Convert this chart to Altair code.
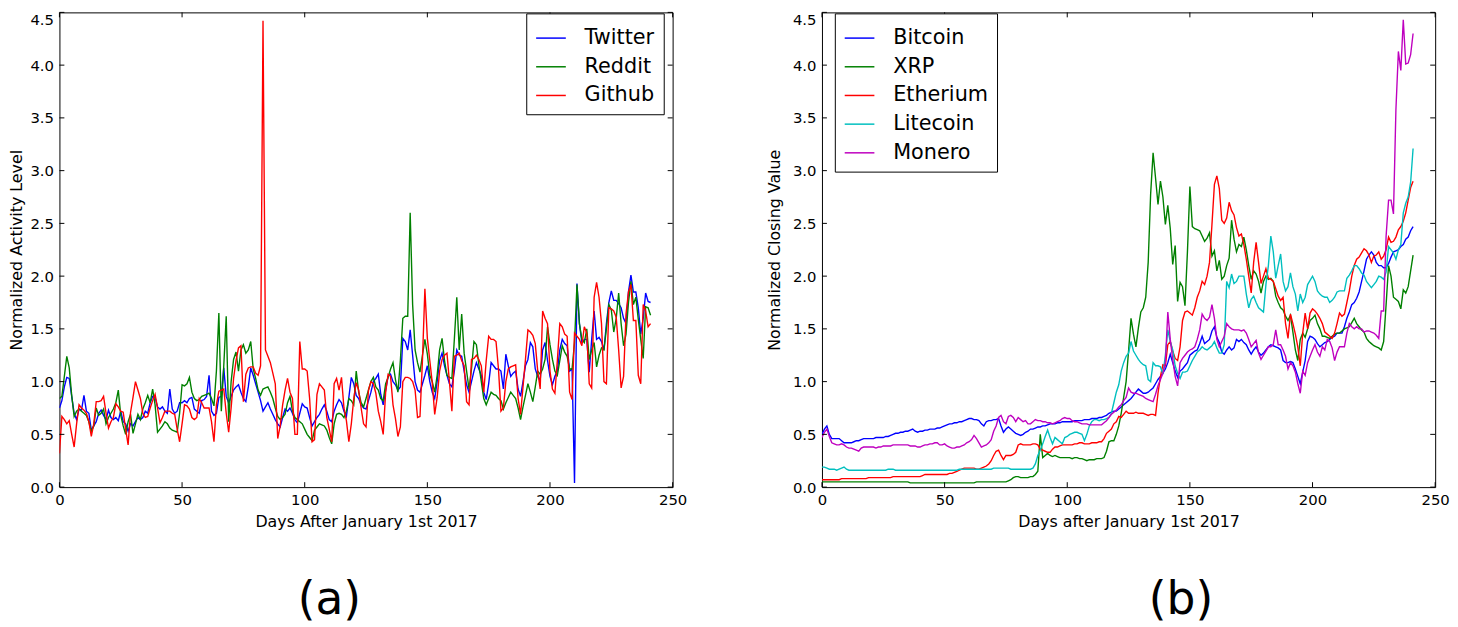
import altair as alt
import pandas as pd

days = list(range(242))
x_ticks = [0, 50, 100, 150, 200, 250]
y_ticks = [0.0, 0.5, 1.0, 1.5, 2.0, 2.5, 3.0, 3.5, 4.0, 4.5]

left_names = ["Twitter", "Reddit", "Github"]
left_colors = ["#0000ff", "#008000", "#ff0000"]

twitter = [
    0.75,0.82,0.95,1.04,1.03,0.86,0.70,0.64,0.74,0.73,
    0.87,0.72,0.70,0.54,0.58,0.62,0.70,0.73,0.68,0.64,
    0.73,0.66,0.64,0.66,0.63,0.72,0.62,0.60,0.53,0.60,
    0.58,0.62,0.66,0.64,0.66,0.72,0.70,0.80,0.86,0.85,
    0.76,0.74,0.76,0.72,0.70,0.93,0.74,0.70,0.72,0.80,
    0.80,0.82,0.80,0.84,0.85,0.74,0.72,0.70,0.82,0.83,
    0.86,1.06,0.72,0.68,0.70,0.85,0.86,1.13,0.86,0.80,
    0.86,0.92,0.95,0.97,0.90,0.84,0.81,0.95,1.13,1.06,
    0.98,0.90,0.82,0.72,0.76,0.80,0.74,0.69,0.64,0.60,
    0.57,0.66,0.74,0.72,0.75,0.70,0.64,0.61,0.70,0.79,
    0.76,0.75,0.66,0.58,0.62,0.66,0.69,0.74,0.78,0.72,
    0.64,0.62,0.72,0.78,0.83,0.80,0.72,0.67,0.85,1.04,
    0.98,0.87,0.84,0.78,0.75,0.74,0.82,0.90,1.00,1.03,
    1.07,0.88,0.78,0.92,1.05,1.07,1.00,0.97,0.92,0.95,
    1.41,1.38,1.30,1.49,1.25,1.00,0.92,0.90,0.98,1.06,
    1.15,1.00,0.90,0.84,1.00,1.20,1.27,1.15,1.06,0.98,
    0.95,1.10,1.30,1.25,1.24,1.10,0.97,0.90,1.00,1.10,
    1.18,1.12,1.06,0.90,0.83,0.98,1.18,1.15,1.12,1.12,
    1.10,0.93,1.26,1.15,1.05,1.08,1.10,0.93,0.86,1.00,
    1.15,1.21,1.37,1.33,1.12,1.05,1.01,1.30,1.37,1.20,
    1.05,0.97,1.05,1.10,1.30,1.40,1.36,1.34,1.10,1.12,
    0.04,1.93,1.55,1.37,1.40,1.40,1.09,1.40,1.67,1.40,
    1.42,1.38,1.30,1.55,1.75,1.86,1.77,1.77,1.74,1.70,
    1.60,1.55,1.85,2.01,1.85,1.85,1.70,1.45,1.60,1.84,
    1.76,1.75,
]

reddit = [
    0.84,0.86,1.05,1.24,1.13,0.87,0.67,0.72,0.74,0.72,
    0.70,0.68,0.62,0.53,0.58,0.75,0.68,0.70,0.74,0.60,
    0.66,0.70,0.74,0.80,0.92,0.68,0.58,0.50,0.62,0.69,
    0.51,0.60,0.69,0.64,0.74,0.80,0.87,0.80,0.93,0.78,
    0.52,0.55,0.58,0.62,0.60,0.56,0.54,0.53,0.52,0.70,
    0.97,0.96,0.98,1.04,0.90,0.84,0.82,0.83,0.86,0.87,
    0.88,0.89,0.84,0.77,1.10,1.65,0.72,1.15,1.62,0.62,
    1.00,1.21,1.28,1.10,1.30,1.35,1.27,1.30,1.38,1.12,
    1.03,0.92,0.87,0.93,0.94,0.95,0.90,0.84,0.75,0.67,
    0.64,0.66,0.69,0.80,0.86,0.72,0.66,0.64,0.62,0.60,
    0.55,0.50,0.47,0.44,0.54,0.57,0.60,0.59,0.58,0.54,
    0.47,0.41,0.60,0.69,0.70,0.69,0.66,0.72,0.84,0.82,
    0.78,1.10,0.90,0.80,0.76,0.84,0.92,1.00,1.04,0.95,
    0.92,0.84,0.82,0.98,1.04,1.12,1.18,1.02,0.90,1.20,
    1.60,1.62,1.62,2.60,1.73,1.30,1.18,1.09,1.25,1.40,
    1.26,1.06,1.00,0.90,1.06,1.30,1.41,1.20,1.06,1.04,
    1.03,1.40,1.80,1.30,1.64,1.27,1.10,0.93,1.12,1.38,
    1.35,1.16,1.00,0.84,0.78,0.84,0.90,0.88,0.87,0.84,
    0.82,0.74,0.80,0.85,0.90,0.87,0.84,0.75,0.64,0.76,
    0.87,0.98,0.90,0.81,0.95,1.10,1.07,1.12,1.21,1.52,
    1.35,1.21,1.10,1.06,1.20,1.34,1.28,1.24,1.12,1.12,
    1.37,1.92,1.55,1.40,1.37,1.50,1.21,1.30,1.37,1.14,
    1.25,1.32,1.30,1.50,1.73,1.68,1.47,1.60,1.84,1.55,
    1.34,1.45,1.75,1.95,1.73,1.80,1.59,1.40,1.22,1.71,
    1.70,1.63,
]

github = [
    0.32,0.67,0.64,0.60,0.63,0.50,0.38,0.60,0.78,0.75,
    0.73,0.70,0.62,0.48,0.60,0.81,0.81,0.82,0.86,0.70,
    0.56,0.62,0.66,0.79,0.76,0.72,0.71,0.55,0.40,0.71,
    0.85,1.00,0.92,0.84,0.70,0.66,0.67,0.75,0.82,0.88,
    0.75,0.61,0.66,0.72,0.72,0.72,0.70,0.69,0.55,0.43,
    0.60,0.78,0.77,0.74,0.66,0.64,0.66,0.84,0.80,0.75,
    0.75,0.75,0.62,0.43,0.78,0.91,0.92,0.93,0.70,0.52,
    0.75,1.03,1.20,1.32,1.34,0.81,1.07,1.13,1.14,1.14,
    1.08,1.06,1.15,4.42,1.30,1.24,1.18,1.08,0.98,0.46,
    0.58,0.78,0.92,1.03,0.90,0.84,0.50,0.50,1.38,1.12,
    1.12,1.10,0.84,0.43,0.45,0.88,0.98,0.95,0.92,0.66,
    0.55,0.43,0.98,1.03,0.92,1.04,0.75,0.63,0.43,0.60,
    0.84,0.99,0.92,0.75,0.60,0.57,0.92,1.00,0.98,0.89,
    0.72,0.62,0.50,0.90,1.07,1.05,0.78,0.65,0.48,0.57,
    1.00,1.04,1.04,1.03,1.00,0.92,0.66,0.67,1.20,1.88,
    1.41,1.20,0.99,0.69,0.85,1.10,1.21,1.25,1.27,1.00,
    0.72,1.24,1.25,1.27,1.20,1.15,0.81,0.78,1.21,1.22,
    1.25,1.21,1.15,0.90,1.20,1.43,1.40,1.40,1.38,1.12,
    0.72,0.75,1.00,1.12,1.14,1.15,1.16,0.84,0.69,0.95,
    1.21,1.49,1.47,1.44,1.36,1.10,0.93,1.67,1.60,1.55,
    1.10,0.93,0.89,1.20,1.55,1.52,1.45,1.43,0.90,0.83,
    1.46,1.43,1.40,1.34,1.52,1.46,0.98,0.94,1.80,1.94,
    1.80,1.55,1.00,0.98,1.70,1.69,1.67,1.61,1.30,0.94,
    1.05,1.64,1.85,1.92,1.58,1.58,1.06,0.98,1.73,1.67,
    1.52,1.55,
]

right_names = ["Bitcoin", "XRP", "Etherium", "Litecoin", "Monero"]
right_colors = ["#0000ff", "#008000", "#ff0000", "#00bfbf", "#bf00bf"]

bitcoin = [
    0.50,0.55,0.58,0.50,0.46,0.46,0.46,0.46,0.44,0.42,
    0.42,0.42,0.42,0.43,0.44,0.44,0.45,0.46,0.46,0.46,
    0.46,0.46,0.47,0.47,0.47,0.47,0.48,0.48,0.49,0.50,
    0.51,0.51,0.52,0.52,0.53,0.53,0.54,0.55,0.53,0.52,
    0.53,0.53,0.54,0.54,0.55,0.55,0.55,0.56,0.56,0.57,
    0.58,0.59,0.60,0.60,0.61,0.61,0.62,0.62,0.63,0.64,
    0.65,0.65,0.64,0.64,0.63,0.60,0.58,0.62,0.63,0.63,
    0.64,0.64,0.65,0.58,0.52,0.55,0.57,0.55,0.53,0.51,
    0.50,0.49,0.50,0.52,0.53,0.55,0.55,0.56,0.57,0.57,
    0.58,0.58,0.59,0.60,0.60,0.60,0.61,0.61,0.62,0.62,
    0.62,0.62,0.62,0.63,0.63,0.63,0.63,0.64,0.64,0.64,
    0.65,0.65,0.65,0.66,0.66,0.67,0.68,0.70,0.71,0.72,
    0.72,0.74,0.76,0.78,0.80,0.82,0.84,0.87,0.90,0.93,
    0.91,0.89,0.89,0.90,0.92,0.94,0.98,1.02,1.05,1.08,
    1.12,1.18,1.26,1.18,1.10,1.04,1.10,1.12,1.15,1.18,
    1.25,1.27,1.29,1.30,1.36,1.43,1.36,1.38,1.40,1.48,
    1.52,1.42,1.37,1.28,1.26,1.30,1.33,1.30,1.32,1.40,
    1.38,1.40,1.37,1.35,1.30,1.26,1.30,1.33,1.28,1.25,
    1.27,1.30,1.33,1.35,1.34,1.33,1.32,1.30,1.20,1.18,
    1.18,1.19,1.18,1.12,1.05,0.98,1.09,1.20,1.38,1.43,
    1.42,1.40,1.36,1.33,1.35,1.37,1.38,1.40,1.42,1.43,
    1.46,1.46,1.46,1.52,1.60,1.66,1.73,1.75,1.79,1.85,
    1.95,2.05,2.16,2.20,2.23,2.20,2.13,2.10,2.10,2.08,
    2.08,2.12,2.18,2.23,2.24,2.25,2.28,2.30,2.35,2.37,
    2.43,2.47,
]

xrp = [
    0.05,0.05,0.05,0.05,0.05,0.05,0.05,0.05,0.05,0.05,
    0.05,0.05,0.05,0.05,0.05,0.05,0.05,0.05,0.05,0.05,
    0.05,0.05,0.05,0.05,0.05,0.05,0.05,0.05,0.05,0.05,
    0.05,0.05,0.05,0.05,0.05,0.05,0.04,0.04,0.04,0.04,
    0.04,0.04,0.04,0.04,0.04,0.04,0.04,0.04,0.04,0.04,
    0.04,0.04,0.04,0.04,0.04,0.04,0.04,0.04,0.04,0.04,
    0.04,0.04,0.04,0.05,0.05,0.05,0.05,0.05,0.05,0.05,
    0.05,0.05,0.05,0.05,0.05,0.05,0.06,0.07,0.09,0.10,
    0.10,0.09,0.09,0.09,0.09,0.10,0.10,0.12,0.15,0.50,
    0.28,0.30,0.32,0.30,0.29,0.30,0.29,0.28,0.28,0.28,
    0.28,0.28,0.27,0.28,0.28,0.27,0.27,0.26,0.25,0.26,
    0.26,0.26,0.27,0.27,0.27,0.28,0.34,0.43,0.44,0.44,
    0.50,0.58,0.70,0.85,1.00,1.29,1.60,1.45,1.33,1.51,
    1.66,1.70,1.80,2.13,2.78,3.17,2.93,2.68,2.90,2.75,
    2.49,2.67,2.45,2.11,2.29,1.76,1.94,1.90,1.72,2.23,
    2.85,2.47,2.45,2.44,2.43,2.38,2.33,2.36,2.41,2.19,
    2.24,2.05,2.15,1.97,2.00,2.10,2.17,2.53,2.35,2.23,
    2.30,2.28,2.37,2.25,2.10,1.97,2.05,2.02,1.95,1.84,
    1.95,2.00,1.97,1.98,1.95,1.81,1.75,1.70,1.68,1.62,
    1.58,1.63,1.47,1.30,1.20,1.40,1.46,1.42,1.50,1.58,
    1.60,1.63,1.55,1.50,1.43,1.43,1.42,1.41,1.43,1.45,
    1.46,1.46,1.48,1.50,1.51,1.52,1.56,1.60,1.55,1.52,
    1.49,1.47,1.41,1.38,1.36,1.34,1.33,1.32,1.30,1.38,
    1.73,2.10,2.00,1.80,1.78,1.76,1.69,1.87,1.84,1.90,
    2.05,2.20,
]

etherium = [
    0.07,0.07,0.07,0.07,0.07,0.07,0.07,0.07,0.08,0.08,
    0.08,0.08,0.08,0.08,0.08,0.08,0.08,0.08,0.08,0.09,
    0.09,0.09,0.09,0.09,0.09,0.09,0.09,0.09,0.09,0.10,
    0.10,0.10,0.10,0.10,0.10,0.10,0.10,0.10,0.10,0.10,
    0.10,0.11,0.12,0.12,0.12,0.12,0.12,0.12,0.12,0.12,
    0.12,0.12,0.13,0.13,0.14,0.15,0.16,0.17,0.18,0.18,
    0.18,0.18,0.18,0.17,0.17,0.18,0.19,0.20,0.22,0.25,
    0.30,0.34,0.35,0.30,0.26,0.30,0.30,0.30,0.31,0.33,
    0.40,0.41,0.40,0.40,0.40,0.40,0.41,0.41,0.40,0.36,
    0.35,0.34,0.33,0.33,0.36,0.38,0.38,0.39,0.40,0.40,
    0.40,0.40,0.40,0.41,0.41,0.42,0.42,0.41,0.41,0.41,
    0.42,0.42,0.42,0.43,0.43,0.46,0.51,0.53,0.55,0.60,
    0.62,0.67,0.66,0.69,0.72,0.70,0.70,0.70,0.71,0.70,
    0.70,0.70,0.69,0.68,0.69,0.69,0.68,0.89,1.05,1.16,
    1.15,1.35,1.38,1.29,1.22,1.20,1.33,1.58,1.66,1.67,
    1.65,1.63,1.70,1.80,1.86,1.95,1.92,2.00,2.13,2.49,
    2.87,2.95,2.83,2.53,2.50,2.55,2.70,2.62,2.58,2.46,
    2.38,2.40,2.30,2.16,2.00,1.84,2.13,2.32,2.13,1.93,
    2.00,2.07,1.98,1.97,1.95,1.88,1.81,1.77,1.80,1.55,
    1.41,1.64,1.55,1.45,1.33,1.15,1.46,1.65,1.50,1.65,
    1.69,1.67,1.64,1.60,1.55,1.47,1.45,1.43,1.41,1.46,
    1.55,1.65,1.62,1.64,1.75,1.86,2.00,2.10,2.16,2.18,
    2.22,2.26,2.24,2.20,2.13,2.19,2.20,2.23,2.16,2.19,
    2.25,2.37,2.32,2.33,2.37,2.44,2.47,2.52,2.60,2.72,
    2.84,2.90,
]

litecoin = [
    0.19,0.19,0.18,0.17,0.17,0.17,0.16,0.17,0.18,0.19,
    0.17,0.16,0.16,0.16,0.16,0.16,0.16,0.16,0.16,0.16,
    0.16,0.16,0.16,0.16,0.16,0.16,0.16,0.17,0.17,0.17,
    0.16,0.16,0.16,0.16,0.16,0.16,0.16,0.16,0.16,0.16,
    0.16,0.16,0.16,0.16,0.16,0.16,0.16,0.16,0.16,0.16,
    0.16,0.16,0.16,0.16,0.16,0.16,0.17,0.17,0.17,0.17,
    0.17,0.17,0.17,0.17,0.17,0.17,0.17,0.17,0.17,0.17,
    0.18,0.18,0.18,0.18,0.18,0.18,0.18,0.17,0.17,0.17,
    0.17,0.17,0.17,0.17,0.17,0.17,0.18,0.22,0.30,0.35,
    0.41,0.48,0.54,0.47,0.41,0.47,0.45,0.43,0.41,0.47,
    0.48,0.50,0.51,0.52,0.52,0.51,0.50,0.44,0.50,0.58,
    0.62,0.64,0.64,0.63,0.64,0.64,0.65,0.66,0.70,0.80,
    0.90,0.97,1.10,1.18,1.24,1.27,1.38,1.29,1.25,1.21,
    1.18,1.16,1.15,1.02,1.00,1.18,1.15,1.15,1.14,1.07,
    1.25,1.49,1.38,1.30,1.15,1.08,1.03,1.09,1.09,1.10,
    1.15,1.20,1.24,1.28,1.30,1.33,1.31,1.30,1.32,1.34,
    1.38,1.32,1.27,1.27,1.35,1.95,1.89,2.02,1.93,1.95,
    2.00,2.00,2.00,1.83,1.70,1.78,1.81,1.75,1.70,1.68,
    1.66,1.92,2.10,2.38,2.23,1.98,2.10,2.21,1.95,1.86,
    1.90,2.03,1.90,1.83,1.67,1.83,1.75,1.80,1.92,1.96,
    2.00,1.95,1.86,1.83,1.81,1.80,1.80,1.75,1.77,1.80,
    1.85,1.86,1.86,1.86,1.98,2.01,2.05,2.10,2.10,2.07,
    2.03,2.01,1.95,1.92,1.89,1.92,1.95,2.00,1.99,1.97,
    2.04,2.28,2.25,2.22,2.16,2.25,2.30,2.60,2.69,2.75,
    2.89,3.21,
]

monero = [
    0.47,0.52,0.55,0.48,0.42,0.41,0.40,0.40,0.41,0.40,
    0.38,0.37,0.37,0.36,0.35,0.34,0.37,0.38,0.38,0.38,
    0.38,0.38,0.37,0.38,0.38,0.39,0.39,0.39,0.39,0.40,
    0.40,0.40,0.40,0.40,0.40,0.40,0.39,0.39,0.39,0.38,
    0.38,0.39,0.40,0.40,0.41,0.41,0.42,0.42,0.40,0.40,
    0.41,0.39,0.38,0.37,0.37,0.38,0.38,0.39,0.40,0.42,
    0.43,0.45,0.49,0.46,0.42,0.38,0.39,0.40,0.42,0.45,
    0.53,0.58,0.66,0.68,0.62,0.60,0.67,0.68,0.66,0.62,
    0.66,0.64,0.62,0.63,0.60,0.60,0.62,0.64,0.63,0.63,
    0.62,0.62,0.61,0.61,0.60,0.61,0.62,0.63,0.65,0.66,
    0.65,0.65,0.63,0.62,0.62,0.61,0.60,0.60,0.60,0.59,
    0.59,0.59,0.59,0.59,0.59,0.61,0.63,0.66,0.69,0.71,
    0.73,0.76,0.78,0.82,0.85,0.94,0.90,0.89,0.89,0.88,
    0.87,0.86,0.84,0.83,0.82,0.81,0.88,0.96,1.02,1.08,
    1.18,1.66,1.40,1.21,1.05,0.96,1.18,1.22,1.25,1.28,
    1.30,1.31,1.33,1.40,1.49,1.64,1.60,1.58,1.61,1.73,
    1.60,1.40,1.33,1.38,1.43,1.55,1.52,1.50,1.49,1.49,
    1.49,1.48,1.49,1.46,1.40,1.33,1.36,1.39,1.27,1.21,
    1.25,1.29,1.33,1.33,1.35,1.49,1.35,1.35,1.30,1.24,
    1.12,1.18,1.15,1.09,0.98,0.89,1.10,1.06,1.18,1.24,
    1.30,1.35,1.28,1.24,1.33,1.30,1.40,1.38,1.32,1.20,
    1.28,1.33,1.33,1.33,1.46,1.55,1.52,1.50,1.52,1.50,
    1.50,1.47,1.48,1.48,1.47,1.46,1.44,1.41,1.67,1.67,
    2.38,2.72,2.72,2.59,3.58,4.13,3.95,4.43,4.01,4.02,
    4.10,4.30,
]

FONT = "DejaVu Sans"
W = 620
H = 480
TL = 5


def panel(names, series, colors, ytitle, xtitle, caption, cap_dx, lx, ly, ytp):
    rows = []
    for name, vals in zip(names, series):
        for d, v in zip(days, vals):
            rows.append({"day": d, "value": v, "series": name})
    df = pd.DataFrame(rows)
    xs = alt.Scale(domain=[0, 250], nice=False, zero=False)
    ys = alt.Scale(domain=[0, 4.5], nice=False)
    xaxis = alt.Axis(values=x_ticks, title=xtitle, labelFlush=False, format="d", titlePadding=6)
    yaxis = alt.Axis(
        values=y_ticks, title=ytitle, labelFlush=False, format=".1f", titlePadding=ytp,
        labelBaseline={"condition": {"test": "datum.value >= 4.4", "value": "top"},
                       "value": "middle"},
    )
    lines = alt.Chart(df).mark_line(strokeWidth=1.4, clip=True).encode(
        x=alt.X("day:Q", scale=xs, axis=xaxis),
        y=alt.Y("value:Q", scale=ys, axis=yaxis),
        color=alt.Color("series:N", scale=alt.Scale(domain=names, range=colors),
                        legend=alt.Legend(title=None, orient="none", legendX=lx, legendY=ly,
                                          symbolType="stroke", symbolSize=900,
                                          symbolStrokeWidth=1.5, labelFontSize=21,
                                          labelFont=FONT, labelColor="black",
                                          labelOffset=18, strokeColor="black",
                                          fillColor="white", padding=9,
                                          rowPadding=3, cornerRadius=0)),
    )
    xt = pd.DataFrame({"day": x_ticks})
    yt = pd.DataFrame({"value": y_ticks})
    xtop = alt.Chart(xt).mark_rule(color="black").encode(
        x=alt.X("day:Q", scale=xs, axis=xaxis), y=alt.value(0), y2=alt.value(TL))
    xbot = alt.Chart(xt).mark_rule(color="black").encode(
        x=alt.X("day:Q", scale=xs, axis=xaxis), y=alt.value(H - TL), y2=alt.value(H))
    yleft = alt.Chart(yt).mark_rule(color="black").encode(
        y=alt.Y("value:Q", scale=ys, axis=yaxis), x=alt.value(0), x2=alt.value(TL))
    yright = alt.Chart(yt).mark_rule(color="black").encode(
        y=alt.Y("value:Q", scale=ys, axis=yaxis), x=alt.value(W - TL), x2=alt.value(W))
    return alt.layer(lines, xtop, xbot, yleft, yright).properties(
        width=W, height=H,
        title=alt.TitleParams(caption, orient="bottom", anchor="middle", fontSize=46,
                              font=FONT, fontWeight="normal", color="black",
                              offset=49, dx=cap_dx),
    )


left = panel(left_names, [twitter, reddit, github], left_colors,
             "Normalized Activity Level", "Days After January 1st 2017", "(a)", -37, 472, 1, 5.5)
right = panel(right_names, [bitcoin, xrp, etherium, litecoin, monero], right_colors,
              "Normalized Closing Value", "Days after January 1st 2017", "(b)", 53, 13, 1, 10)

chart = alt.hconcat(left, right, spacing=79).properties(
    padding={"left": 0, "top": 0, "right": 0, "bottom": 0}
).resolve_scale(color="independent").configure_view(
    stroke="black", strokeWidth=1
).configure_axis(
    domain=False, ticks=False, grid=False,
    labelFont=FONT, labelFontSize=15, labelColor="black", labelPadding=6,
    titleFont=FONT, titleFontSize=16, titleFontWeight="normal", titleColor="black",
)

chart.save("out.html", embed_options={"renderer": "svg", "actions": False})
